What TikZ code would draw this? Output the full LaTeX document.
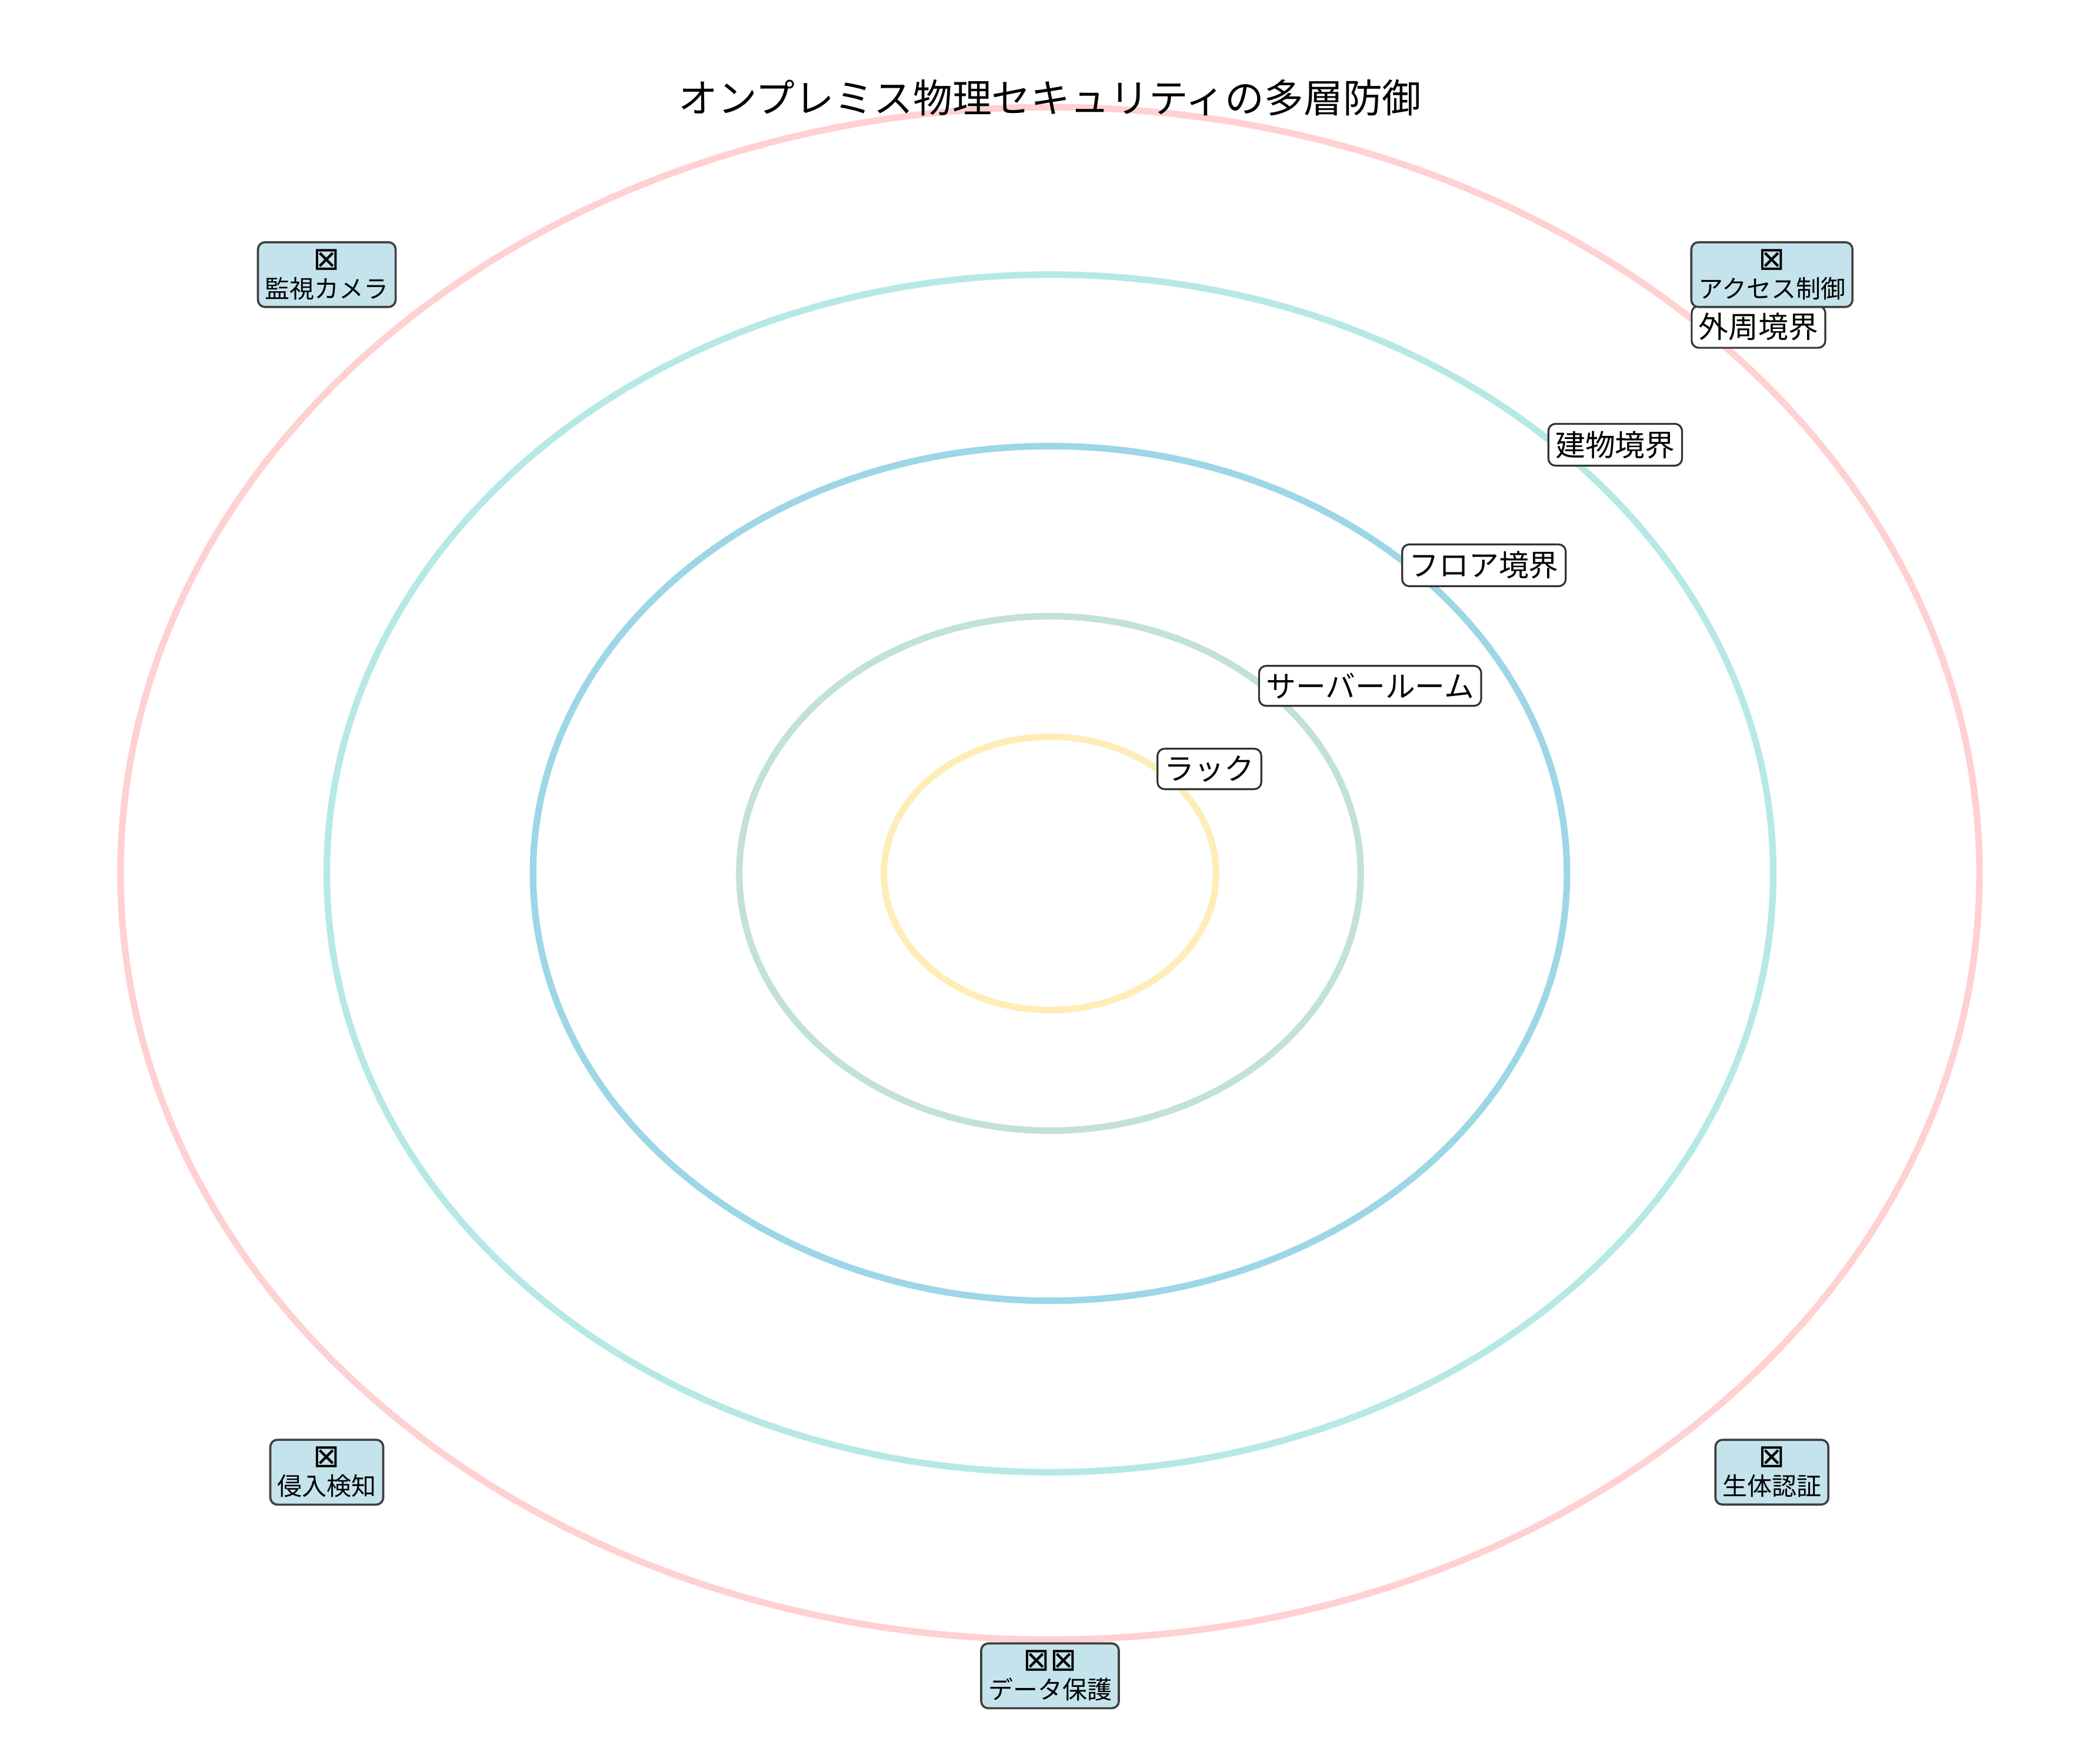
\documentclass[tikz,border=0pt]{standalone}
\usepackage{fontspec}
\setmainfont{Noto Sans CJK JP}
\newfontfamily\symfont{DejaVu Sans}
\definecolor{ringA}{HTML}{FFD1D1}
\definecolor{ringB}{HTML}{B6E9E6}
\definecolor{ringC}{HTML}{9DD6E6}
\definecolor{ringD}{HTML}{C2E2D4}
\definecolor{ringE}{HTML}{FFEDB8}
\definecolor{iconfill}{HTML}{C5E3EC}
\tikzset{
  ring/.style={line width=2.8pt},
  layerlabel/.style={draw=black!80,fill=white,rounded corners=3pt,line width=0.8pt,font=\fontsize{12.7}{15}\selectfont,inner sep=3pt},
  iconbox/.style={draw=black!75,fill=iconfill,rounded corners=3pt,line width=0.9pt,font=\fontsize{10.5}{12}\selectfont,align=center,inner sep=3pt}
}
\newcommand{\tofu}{{\symfont\fontsize{13.5}{13.5}\selectfont ⊠}}
\begin{document}
\begin{tikzpicture}[x=0.02cm,y=-0.02cm]
\useasboundingbox (0,0) rectangle (1568,1304.5);
% rings
\draw[ring,ringA] (784,652) ellipse [x radius=694,y radius=572];
\draw[ring,ringB] (784,652) ellipse [x radius=540,y radius=447];
\draw[ring,ringC] (784,652) ellipse [x radius=386,y radius=319];
\draw[ring,ringD] (784,652) ellipse [x radius=232,y radius=192];
\draw[ring,ringE] (784,652) ellipse [x radius=124,y radius=102];
\node[font=\fontsize{16.7}{19}\selectfont] (title) at (784,73) {オンプレミス物理セキュリティの多層防御};
% layer labels
\node[layerlabel] (outer) at (1313,244) {外周境界};
\node[layerlabel] (building) at (1206,332) {建物境界};
\node[layerlabel] (floor) at (1108,422) {フロア境界};
\node[layerlabel] (server) at (1023,512) {サーバールーム};
\node[layerlabel] (rack) at (903,574) {ラック};
% measures
\node[iconbox] (camera) at (244,205) {\tofu\\監視カメラ};
\node[iconbox] (access) at (1323,205) {\tofu\\アクセス制御};
\node[iconbox] (intrusion) at (244,1099) {\tofu\\侵入検知};
\node[iconbox] (biometric) at (1323,1099) {\tofu\\生体認証};
\node[iconbox] (data) at (784,1251) {\tofu\tofu\\データ保護};
\end{tikzpicture}
\end{document}
